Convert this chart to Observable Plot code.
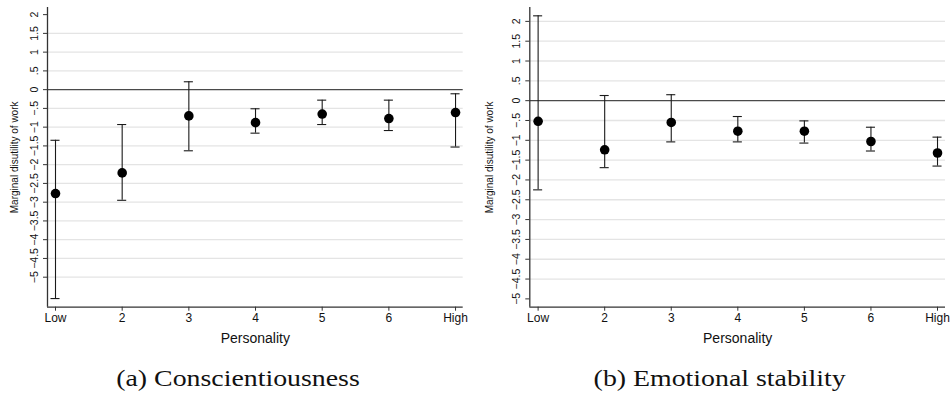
<!DOCTYPE html>
<html>
<head>
<meta charset="utf-8">
<script src="https://cdn.jsdelivr.net/npm/d3@7"></script>
<script src="https://cdn.jsdelivr.net/npm/@observablehq/plot@0.6"></script>
<style>
  html, body { margin: 0; padding: 0; background: #fff; }
  #fig { position: relative; width: 950px; height: 403px; overflow: hidden; }
  .panel { position: absolute; top: 0; width: 475px; height: 352px; }
  .caption {
    position: absolute; top: 364px; height: 28px; line-height: 28px;
    font-family: "Liberation Serif", "Times New Roman", serif; font-size: 24px;
    color: #111; white-space: nowrap; transform-origin: center center;
  }
</style>
</head>
<body>
<div id="fig">
  <div class="panel" id="panelA" style="left:0px"></div>
  <div class="panel" id="panelB" style="left:475px"></div>
  <div class="caption" id="capA"></div>
  <div class="caption" id="capB"></div>
</div>
<script>
// Personality levels (x positions) and their tick labels
const levels = [1, 2, 3, 4, 5, 6, 7];
const levelLabels = ["Low", "2", "3", "4", "5", "6", "High"];

// (a) Conscientiousness: point estimate and confidence bounds
const consEstimate = [-2.77, -2.22, -0.70, -0.88, -0.65, -0.77, -0.61];
const consLower    = [-5.57, -2.95, -1.63, -1.16, -0.93, -1.09, -1.53];
const consUpper    = [-1.35, -0.93,  0.21, -0.51, -0.28, -0.28, -0.11];

// (b) Emotional stability: point estimate and confidence bounds
const emoEstimate = [-0.52, -1.24, -0.55, -0.77, -0.77, -1.03, -1.32];
const emoLower    = [-2.25, -1.69, -1.04, -1.04, -1.07, -1.27, -1.65];
const emoUpper    = [ 2.14,  0.13,  0.15, -0.40, -0.51, -0.67, -0.92];

// Y-axis ticks (every half unit) and the light grid lines of each panel
const yTicks = d3.range(-5, 2.01, 0.5);
const consGrid = d3.range(-5, 1.51, 0.5).filter(v => v !== 0);
const emoGrid = d3.range(-4.5, 2.01, 0.5).filter(v => v !== 0);

const yTitle = "Marginal disutility of work";
const xTitle = "Personality";
const captions = ["(a) Conscientiousness", "(b) Emotional stability"];

const fmtY = d => {
  if (d === 0) return "0";
  const s = String(Math.abs(d)).replace(/^0\./, ".");
  return (d < 0 ? "\u2212" : "") + s;
};

function panel({est, lo, hi, grid, xDomain, yDomain, marginLeft, marginRight}) {
  const rows = levels.map((k, i) => ({k, est: est[i], lo: lo[i], hi: hi[i]}));
  const capHalf = 0.068;
  const ink = "#1a1a1a";
  return Plot.plot({
    width: 475,
    height: 352,
    marginTop: 7,
    marginBottom: 45.3,
    marginLeft,
    marginRight,
    style: {fontFamily: "'Liberation Sans', Arial, Helvetica, sans-serif", background: "white", overflow: "visible"},
    x: {domain: xDomain},
    y: {domain: yDomain},
    marks: [
      Plot.ruleY(grid, {stroke: "#e4e4e4", strokeWidth: 1.3}),
      Plot.ruleY([0], {stroke: "#4a4a4a", strokeWidth: 1.3}),
      // axis lines along the left and bottom of the plot region
      Plot.ruleX([xDomain[0]], {stroke: "#333", strokeWidth: 1.3}),
      Plot.ruleY([yDomain[0]], {stroke: "#333", strokeWidth: 1.3}),
      // confidence intervals with caps
      Plot.ruleX(rows, {x: "k", y1: "lo", y2: "hi", stroke: ink, strokeWidth: 1.1}),
      Plot.ruleY(rows, {y: "lo", x1: d => d.k - capHalf, x2: d => d.k + capHalf, stroke: ink, strokeWidth: 1.1}),
      Plot.ruleY(rows, {y: "hi", x1: d => d.k - capHalf, x2: d => d.k + capHalf, stroke: ink, strokeWidth: 1.1}),
      Plot.dot(rows, {x: "k", y: "est", r: 4.8, fill: "black", stroke: "none"}),
      Plot.axisY({
        ticks: yTicks, tickFormat: fmtY, tickSize: 4, tickPadding: 6,
        tickRotate: -90, fontSize: 10.5, label: null, stroke: "#333", color: "#111"
      }),
      Plot.axisX({
        ticks: levels, tickFormat: (d, i) => levelLabels[i], tickSize: 4, tickPadding: 2,
        fontSize: 12, label: null, stroke: "#333", color: "#111"
      }),
      Plot.text([yTitle], {
        frameAnchor: "left", dx: -(marginLeft - 14), rotate: -90,
        fontSize: 10, fill: "#111", lineAnchor: "middle", textAnchor: "middle"
      }),
      Plot.text([xTitle], {
        frameAnchor: "bottom", dy: 31.5, fontSize: 14, fill: "#111", lineAnchor: "middle"
      })
    ]
  });
}

document.getElementById("panelA").append(panel({
  est: consEstimate, lo: consLower, hi: consUpper, grid: consGrid,
  xDomain: [0.88, 7.115], yDomain: [-5.8, 2.19], marginLeft: 47, marginRight: 12.3
}));
document.getElementById("panelB").append(panel({
  est: emoEstimate, lo: emoLower, hi: emoUpper, grid: emoGrid,
  xDomain: [0.875, 7.12], yDomain: [-5.21, 2.35], marginLeft: 54.3, marginRight: 5
}));

// Sub-figure captions, centred under each panel
function placeCaption(id, text, centerX) {
  const el = document.getElementById(id);
  el.textContent = text;
  const w = el.getBoundingClientRect().width;
  el.style.left = (centerX - w / 2) + "px";
  el.style.transform = "scaleX(1.16)";
}
placeCaption("capA", captions[0], 237.5);
placeCaption("capB", captions[1], 719.5);
</script>
</body>
</html>
